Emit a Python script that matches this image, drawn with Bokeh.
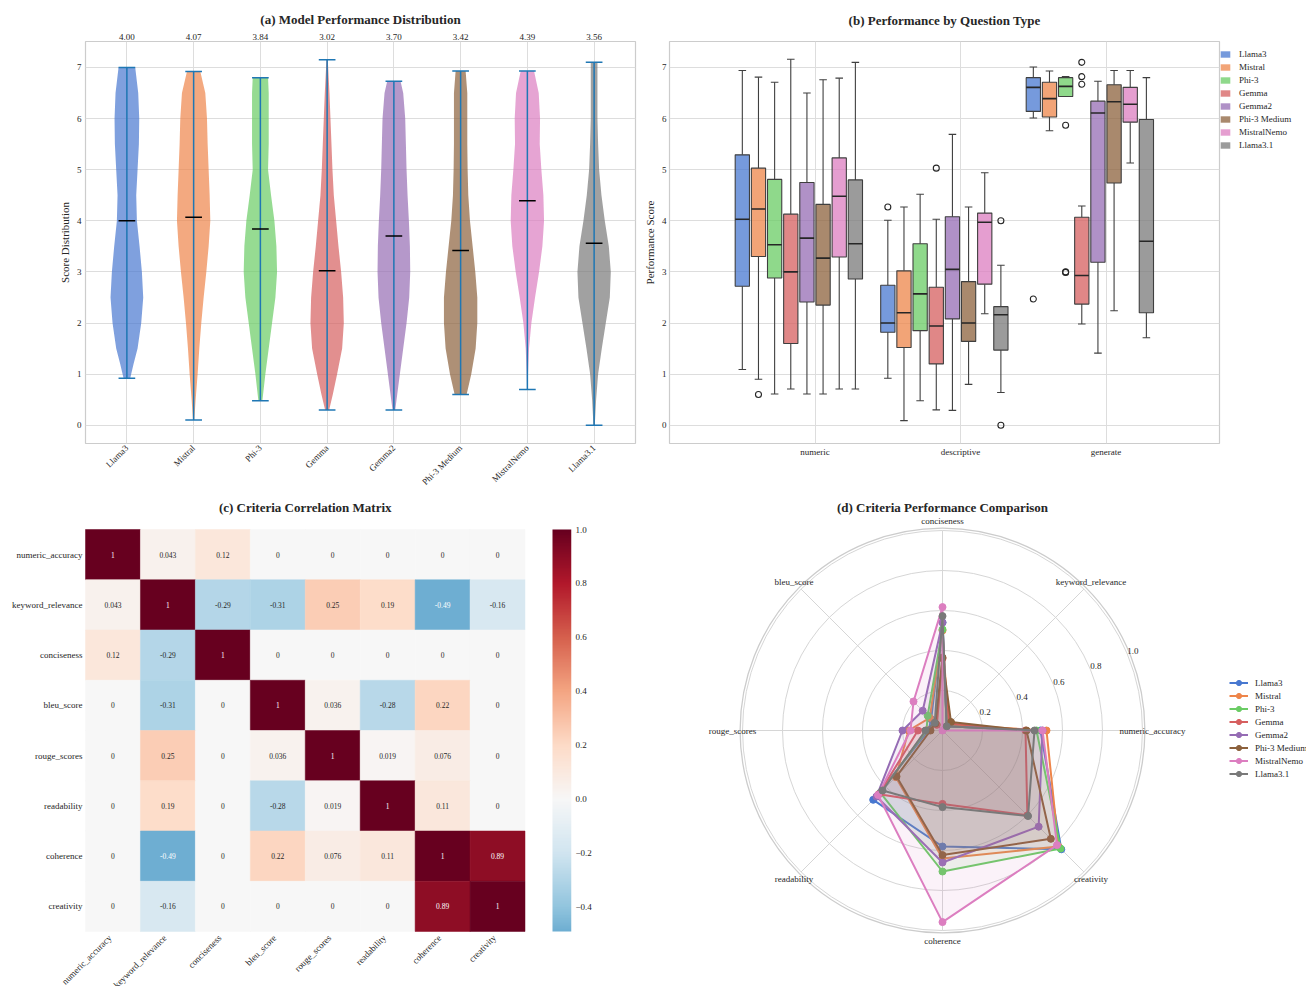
import math
import numpy as np
from bokeh.plotting import figure
from bokeh.models import (Range1d, LinearAxis, FixedTicker, Legend, LegendItem,
                          ColumnDataSource, LinearColorMapper)
from bokeh.layouts import row, column
from bokeh.embed import file_html
from bokeh.resources import INLINE
from bokeh.core.properties import value

FONT = "Liberation Serif"
TXT = "#262626"
GRID = "#dddddd"
SPINE = "#cccccc"
BOXLINE = "#3f3f3f"

MODELS = ["Llama3", "Mistral", "Phi-3", "Gemma", "Gemma2", "Phi-3 Medium", "MistralNemo", "Llama3.1"]
COLORS = ["#4878d0", "#ee854a", "#6acc64", "#d65f5f", "#956cb4", "#8c613c", "#dc7ec0", "#797979"]

# ---------------- (a) violin data ----------------
VIOLIN_MEANS = [4.00, 4.07, 3.84, 3.02, 3.70, 3.42, 4.39, 3.56]
VIOLIN_MIN = [0.92, 0.10, 0.48, 0.30, 0.30, 0.60, 0.70, 0.00]
VIOLIN_MAX = [7.00, 6.92, 6.80, 7.15, 6.73, 6.93, 6.93, 7.10]
# density outline: score levels and half-widths
VIOLIN_Y = {
    "Llama3": [0.92, 1.2, 1.5, 2.0, 2.5, 3.0, 3.5, 4.0, 4.5, 5.0, 5.5, 6.0, 6.5, 7.0],
    "Mistral": [0.10, 0.5, 1.0, 1.5, 2.0, 2.5, 3.0, 3.5, 4.0, 4.5, 5.0, 5.5, 6.0, 6.5, 6.92],
    "Phi-3": [0.48, 1.0, 1.5, 2.0, 2.5, 3.0, 3.5, 4.0, 4.5, 5.0, 5.5, 6.0, 6.5, 6.8],
    "Gemma": [0.30, 0.6, 1.0, 1.5, 2.0, 2.5, 3.0, 3.5, 4.0, 4.5, 5.0, 5.5, 6.0, 6.5, 7.15],
    "Gemma2": [0.30, 0.5, 1.0, 1.5, 2.0, 2.5, 3.0, 3.5, 4.0, 4.5, 5.0, 5.5, 6.0, 6.5, 6.73],
    "Phi-3 Medium": [0.60, 1.0, 1.5, 2.0, 2.5, 3.0, 3.5, 4.0, 4.5, 5.0, 5.5, 6.0, 6.5, 6.93],
    "MistralNemo": [0.70, 1.0, 1.5, 2.0, 2.5, 3.0, 3.5, 4.0, 4.5, 5.0, 5.5, 6.0, 6.5, 6.93],
    "Llama3.1": [0.0, 0.5, 1.0, 1.5, 2.0, 2.5, 3.0, 3.5, 4.0, 4.5, 5.0, 5.5, 6.0, 6.5, 7.1],
}
VIOLIN_W = {
    "Llama3": [0.05, 0.10, 0.16, 0.215, 0.245, 0.225, 0.19, 0.15, 0.14, 0.16, 0.18, 0.185, 0.17, 0.125],
    "Mistral": [0.01, 0.03, 0.06, 0.085, 0.115, 0.15, 0.19, 0.225, 0.25, 0.24, 0.225, 0.21, 0.20, 0.175, 0.10],
    "Phi-3": [0.03, 0.075, 0.125, 0.175, 0.225, 0.25, 0.24, 0.21, 0.16, 0.115, 0.125, 0.125, 0.125, 0.115],
    "Gemma": [0.03, 0.085, 0.15, 0.225, 0.25, 0.24, 0.21, 0.17, 0.135, 0.10, 0.08, 0.065, 0.05, 0.035, 0.01],
    "Gemma2": [0.02, 0.04, 0.09, 0.14, 0.19, 0.23, 0.245, 0.24, 0.225, 0.205, 0.19, 0.18, 0.17, 0.14, 0.10],
    "Phi-3 Medium": [0.09, 0.16, 0.225, 0.25, 0.25, 0.22, 0.18, 0.14, 0.115, 0.105, 0.10, 0.10, 0.10, 0.075],
    "MistralNemo": [0.005, 0.01, 0.025, 0.06, 0.115, 0.175, 0.225, 0.25, 0.24, 0.21, 0.185, 0.19, 0.17, 0.10],
    "Llama3.1": [0.01, 0.03, 0.06, 0.115, 0.175, 0.235, 0.25, 0.22, 0.16, 0.11, 0.075, 0.06, 0.05, 0.05, 0.05],
}

# ---------------- (b) box data ----------------
QTYPES = ["numeric", "descriptive", "generate"]
# [lower whisker, Q1, median, Q3, upper whisker] per model
BOX_STATS = {
    "numeric": [[1.09, 2.72, 4.03, 5.29, 6.94], [0.90, 3.30, 4.23, 5.03, 6.81],
                [0.61, 2.88, 3.53, 4.81, 6.71], [0.71, 1.60, 3.00, 4.13, 7.16],
                [0.61, 2.41, 3.66, 4.75, 6.50], [0.61, 2.35, 3.27, 4.32, 6.76],
                [0.71, 3.29, 4.48, 5.23, 6.79], [0.71, 2.86, 3.55, 4.80, 7.10]],
    "descriptive": [[0.92, 1.82, 2.00, 2.74, 4.01], [0.09, 1.52, 2.20, 3.02, 4.27],
                    [0.48, 1.85, 2.57, 3.55, 4.52], [0.30, 1.20, 1.94, 2.70, 4.03],
                    [0.29, 2.08, 3.05, 4.08, 5.69], [0.80, 1.64, 2.00, 2.81, 4.27],
                    [2.18, 2.76, 3.97, 4.15, 4.94], [0.64, 1.47, 2.16, 2.32, 3.13]],
    "generate": [[6.01, 6.14, 6.61, 6.80, 7.01], [5.76, 6.03, 6.39, 6.71, 6.93],
                 [6.43, 6.43, 6.63, 6.80, 6.82], [1.98, 2.37, 2.93, 4.07, 4.29],
                 [1.41, 3.19, 6.11, 6.34, 6.73], [2.24, 4.74, 6.33, 6.66, 6.94],
                 [5.13, 5.93, 6.28, 6.61, 6.94], [1.71, 2.20, 3.60, 5.98, 6.80]],
}
BOX_OUTLIERS = {
    "numeric": [[], [0.60], [], [], [], [], [], []],
    "descriptive": [[4.27], [], [], [5.03], [], [], [], [4.00, 0.00]],
    "generate": [[2.47], [], [5.87, 3.00, 2.99], [7.10, 6.82, 6.67], [], [], [], []],
}

# ---------------- (c) correlation data ----------------
CRITERIA = ["numeric_accuracy", "keyword_relevance", "conciseness", "bleu_score",
            "rouge_scores", "readability", "coherence", "creativity"]
CORR = [
    [1, 0.043, 0.12, 0, 0, 0, 0, 0],
    [0.043, 1, -0.29, -0.31, 0.25, 0.19, -0.49, -0.16],
    [0.12, -0.29, 1, 0, 0, 0, 0, 0],
    [0, -0.31, 0, 1, 0.036, -0.28, 0.22, 0],
    [0, 0.25, 0, 0.036, 1, 0.019, 0.076, 0],
    [0, 0.19, 0, -0.28, 0.019, 1, 0.11, 0],
    [0, -0.49, 0, 0.22, 0.076, 0.11, 1, 0.89],
    [0, -0.16, 0, 0, 0, 0, 0.89, 1],
]
CB_TICKS = [-0.4, -0.2, 0.0, 0.2, 0.4, 0.6, 0.8, 1.0]
CB_LABELS = ["\u22120.4", "\u22120.2", "0.0", "0.2", "0.4", "0.6", "0.8", "1.0"]

# ---------------- (d) radar data ----------------
RADAR = {
    "Llama3": [0.49, 0.03, 0.54, 0.08, 0.07, 0.49, 0.58, 0.84],
    "Mistral": [0.52, 0.04, 0.50, 0.09, 0.17, 0.33, 0.64, 0.82],
    "Phi-3": [0.47, 0.03, 0.505, 0.105, 0.08, 0.44, 0.705, 0.835],
    "Gemma": [0.415, 0.05, 0.36, 0.04, 0.123, 0.45, 0.367, 0.60],
    "Gemma2": [0.50, 0.03, 0.54, 0.14, 0.20, 0.467, 0.66, 0.68],
    "Phi-3 Medium": [0.42, 0.06, 0.365, 0.05, 0.06, 0.325, 0.623, 0.766],
    "MistralNemo": [0.50, 0.0, 0.617, 0.205, 0.16, 0.456, 0.958, 0.81],
    "Llama3.1": [0.46, 0.03, 0.572, 0.055, 0.085, 0.424, 0.383, 0.605],
}
R_TICKS = [0.2, 0.4, 0.6, 0.8, 1.0]
R_LABELS = ["0.2", "0.4", "0.6", "0.8", "1.0"]


def style_axes(p):
    for ax in p.axis:
        ax.axis_line_color = None
        ax.major_tick_line_color = None
        ax.minor_tick_line_color = None
        ax.major_tick_out = 0
        ax.major_tick_in = 0
        ax.minor_tick_out = 0
        ax.minor_tick_in = 0
        ax.major_label_text_font = FONT
        ax.major_label_text_font_size = "9px"
        ax.major_label_text_color = TXT
        ax.axis_label_text_font = FONT
        ax.axis_label_text_font_size = "11px"
        ax.axis_label_text_font_style = "normal"
        ax.axis_label_text_color = TXT


def style_title(p, standoff, valign):
    p.title.align = "center"
    p.title.vertical_align = valign
    p.title.text_font = FONT
    p.title.text_font_size = "13px"
    p.title.text_font_style = "bold"
    p.title.text_color = TXT
    p.title.standoff = standoff


YR = (-0.3575, 7.5075)

# ====================== (a) ======================
FW, FH = 550, 402
pa = figure(title="(a) Model Performance Distribution",
            frame_width=FW, frame_height=FH, min_border_left=85, min_border_right=5,
            min_border_top=40, min_border_bottom=48, x_range=Range1d(0.38, 8.62),
            y_range=Range1d(*YR), output_backend="svg", toolbar_location=None)
POS = [i + 1 for i in range(len(MODELS))]
pa.xaxis.ticker = FixedTicker(ticks=POS)
pa.xaxis.major_label_overrides = {p: m for p, m in zip(POS, MODELS)}
pa.xaxis.major_label_orientation = math.pi / 4
pa.xaxis.major_label_standoff = 3
pa.yaxis.ticker = FixedTicker(ticks=list(range(8)))
pa.yaxis.axis_label = "Score Distribution"
pa.yaxis.major_label_standoff = 4
pa.yaxis.axis_label_standoff = 3
pa.grid.grid_line_color = GRID
pa.outline_line_color = SPINE
pa.outline_line_width = 1.2

vx, vy = [], []
for i, m in enumerate(MODELS):
    pos = POS[i]
    ys = VIOLIN_Y[m]
    ws = VIOLIN_W[m]
    vx.append([pos - w for w in ws] + [pos + w for w in reversed(ws)])
    vy.append(list(ys) + list(reversed(ys)))
pa.patches(xs="xs", ys="ys", source=ColumnDataSource(dict(xs=vx, ys=vy, c=COLORS)),
           fill_color="c", fill_alpha=0.7, line_color=None)
CAP = 0.125
pa.segment(x0=POS, y0=VIOLIN_MIN, x1=POS, y1=VIOLIN_MAX, line_color="#1f77b4", line_width=1.5)
for arr in (VIOLIN_MIN, VIOLIN_MAX):
    pa.segment(x0=[p - CAP for p in POS], y0=arr, x1=[p + CAP for p in POS], y1=arr,
               line_color="#1f77b4", line_width=1.5)
pa.segment(x0=[p - CAP for p in POS], y0=VIOLIN_MEANS, x1=[p + CAP for p in POS], y1=VIOLIN_MEANS,
           line_color="black", line_width=1.5)
top_ax = LinearAxis(ticker=FixedTicker(ticks=POS),
                    major_label_overrides={p: f"{mv:.2f}" for p, mv in zip(POS, VIOLIN_MEANS)},
                    major_label_standoff=2)
pa.add_layout(top_ax, "above")
style_axes(pa)
style_title(pa, 8, "bottom")

# ====================== (b) ======================
pb = figure(title="(b) Performance by Question Type",
            frame_width=FW, frame_height=FH, min_border_left=26, min_border_right=90,
            min_border_top=40, min_border_bottom=48, x_range=Range1d(-1.0, 2.78),
            y_range=Range1d(*YR), output_backend="svg", toolbar_location=None)
CAT_X = list(range(len(QTYPES)))
pb.xaxis.ticker = FixedTicker(ticks=CAT_X)
pb.xaxis.major_label_overrides = {c: q for c, q in zip(CAT_X, QTYPES)}
pb.xaxis.major_label_standoff = 3
pb.yaxis.ticker = FixedTicker(ticks=list(range(8)))
pb.yaxis.axis_label = "Performance Score"
pb.yaxis.major_label_standoff = 3
pb.yaxis.axis_label_standoff = 3
pb.grid.grid_line_color = GRID
pb.outline_line_color = SPINE
pb.outline_line_width = 1.2

DODGE = 0.111
BW = 0.098
CAPW = 0.026
legend_r = []
for i, m in enumerate(MODELS):
    off = (i - 4.5) * DODGE
    xs = [c + off for c in CAT_X]
    st = [BOX_STATS[q][i] for q in QTYPES]
    lo = [s[0] for s in st]
    q1 = [s[1] for s in st]
    med = [s[2] for s in st]
    q3 = [s[3] for s in st]
    hi = [s[4] for s in st]
    pb.segment(x0=xs + xs, y0=q3 + q1, x1=xs + xs, y1=hi + lo, line_color=BOXLINE, line_width=1.1)
    pb.segment(x0=[x - CAPW for x in xs] * 2, y0=hi + lo, x1=[x + CAPW for x in xs] * 2, y1=hi + lo,
               line_color=BOXLINE, line_width=1.1)
    rf = pb.vbar(x=xs, width=BW, bottom=q1, top=q3, fill_color=COLORS[i], fill_alpha=0.75,
                 line_color=None)
    legend_r.append(rf)
    pb.vbar(x=xs, width=BW, bottom=q1, top=q3, fill_color=None, line_color=BOXLINE, line_width=1.1)
    pb.segment(x0=[x - BW / 2 for x in xs], y0=med, x1=[x + BW / 2 for x in xs], y1=med,
               line_color="#262626", line_width=1.6)
    ox, oy = [], []
    for c, q in zip(CAT_X, QTYPES):
        for v in BOX_OUTLIERS[q][i]:
            ox.append(c + off)
            oy.append(v)
    if ox:
        pb.scatter(ox, oy, marker="circle", size=6, fill_color=None, line_color="#262626", line_width=1.1)
style_axes(pb)
leg_b = Legend(items=[LegendItem(label=m, renderers=[r]) for m, r in zip(MODELS, legend_r)],
               location=(0, 292), glyph_width=12, glyph_height=8, label_height=13,
               label_standoff=8, spacing=0, padding=0, margin=0,
               background_fill_alpha=0.0, border_line_color=None,
               label_text_font=FONT, label_text_font_size="9px", label_text_color=TXT)
pb.add_layout(leg_b, "right")
style_title(pb, 24, "top")

# ====================== (c) ======================
CW = 439.5 / 8      # px per cell (x)
CH = 402.0 / 8      # px per cell (y)
LEFTPAD = 85         # px between canvas left and first column
CFW, CFH = LEFTPAD + 486, 494
TOPPAD = 37          # px between canvas top and first row
BOTPAD = CFH - TOPPAD - 402
VMIN, VMAX, CENTER = -0.49, 1.0, 0.0
CBPX = 402.0 / (VMAX - VMIN)

RDBU_R = ["#053061", "#2166ac", "#4393c3", "#92c5de", "#d1e5f0", "#f7f7f7",
          "#fddbc7", "#f4a582", "#d6604d", "#b2182b", "#67001f"]


def _rgb(h):
    return tuple(int(h[k:k + 2], 16) for k in (1, 3, 5))


def cmap(t):
    t = min(max(t, 0.0), 1.0) * 10
    k = min(int(t), 9)
    f = t - k
    a, b = _rgb(RDBU_R[k]), _rgb(RDBU_R[k + 1])
    return tuple(a[j] + (b[j] - a[j]) * f for j in range(3))


VR = max(VMAX - CENTER, CENTER - VMIN)
CLO = (VMIN - CENTER + VR) / (2 * VR)
CHI = (VMAX - CENTER + VR) / (2 * VR)
PAL = ["#%02x%02x%02x" % tuple(int(round(c)) for c in cmap(CLO + (CHI - CLO) * k / 255)) for k in range(256)]
mapper = LinearColorMapper(palette=PAL, low=VMIN, high=VMAX)


def lum(rgb):
    out = []
    for c in rgb:
        c = c / 255.0
        out.append(c / 12.92 if c <= 0.03928 else ((c + 0.055) / 1.055) ** 2.4)
    return 0.2126 * out[0] + 0.7152 * out[1] + 0.0722 * out[2]


pc = figure(frame_width=CFW, frame_height=CFH, min_border_left=0, min_border_right=69,
            min_border_top=0, min_border_bottom=0,
            x_range=Range1d(-LEFTPAD / CW, 486 / CW), y_range=Range1d(8 + BOTPAD / CH, -TOPPAD / CH),
            x_axis_type=None, y_axis_type=None, output_backend="svg", toolbar_location=None)
pc.extra_y_ranges = {"cb": Range1d(VMIN - BOTPAD / CBPX, VMAX + TOPPAD / CBPX)}
pc.outline_line_color = None

hx, hy, hv, hl, htc = [], [], [], [], []
for i, rowv in enumerate(CORR):
    for j, v in enumerate(rowv):
        hx.append(j + 0.5)
        hy.append(i + 0.5)
        hv.append(v)
        hl.append(format(v, ".2g"))
        rgb = cmap(CLO + (CHI - CLO) * (v - VMIN) / (VMAX - VMIN))
        htc.append(TXT if lum(rgb) > 0.408 else "white")
hsrc = ColumnDataSource(dict(x=hx, y=hy, v=hv, lab=hl, tc=htc))
pc.rect(x="x", y="y", width=1, height=1, source=hsrc,
        fill_color={"field": "v", "transform": mapper},
        line_color={"field": "v", "transform": mapper}, line_width=0.5)
pc.text(x="x", y="y", text="lab", source=hsrc, text_color="tc", text_align="center",
        text_baseline="middle", text_font=value(FONT), text_font_size="7.5px")

NCRIT = len(CRITERIA)
CTICKS = [k + 0.5 for k in range(NCRIT)]
right_ax = LinearAxis(y_range_name="cb", ticker=FixedTicker(ticks=CB_TICKS),
                      major_label_overrides={t: s for t, s in zip(CB_TICKS, CB_LABELS)},
                      major_label_standoff=4)
pc.add_layout(right_ax, "right")
style_axes(pc)

# row labels (left) and rotated column labels (bottom)
pc.text(x=[0] * NCRIT, y=CTICKS, text=CRITERIA, text_align="right", text_baseline="middle",
        x_offset=-3, text_font=value(FONT), text_font_size="9px", text_color=TXT)
pc.text(x=CTICKS, y=[NCRIT] * NCRIT, text=CRITERIA, angle=math.pi / 4, text_align="right",
        text_baseline="middle", x_offset=-3, y_offset=5, text_font=value(FONT),
        text_font_size="9px", text_color=TXT)

CBX0 = (552 - 85) / CW
CBDW = 19 / CW
grad = np.linspace(VMIN, VMAX, 256).reshape(256, 1)
pc.image(image=[grad], x=CBX0, y=VMIN, dw=CBDW, dh=VMAX - VMIN, y_range_name="cb",
         color_mapper=mapper)

pc.text(x=[NCRIT / 2], y=[-(527 - 505) / CH], text=["(c) Criteria Correlation Matrix"],
        text_align="center", text_baseline="middle", text_font=value(FONT),
        text_font_size="13px", text_font_style="bold", text_color=TXT)

# ====================== (d) ======================
DFW, DFH = 666, CFH
RPX = 200.0
CX, CY = 942 - 640, 728 - 490   # polar centre inside the canvas (px)
pd_ = figure(frame_width=DFW, frame_height=DFH, min_border=0,
             x_range=Range1d(-CX / RPX, (DFW - CX) / RPX),
             y_range=Range1d(-(DFH - CY) / RPX, CY / RPX),
             x_axis_type=None, y_axis_type=None, output_backend="svg", toolbar_location=None)
pd_.outline_line_color = None
THETA = [2 * math.pi * k / NCRIT for k in range(NCRIT)]

pd_.circle(x=[0] * len(R_TICKS), y=[0] * len(R_TICKS), radius=R_TICKS, fill_color=None,
           line_color="#d6d6d6", line_width=1)
pd_.segment(x0=[0] * NCRIT, y0=[0] * NCRIT, x1=[math.cos(t) for t in THETA],
            y1=[math.sin(t) for t in THETA], line_color="#d6d6d6", line_width=1)
pd_.circle(x=[0], y=[0], radius=[1.012], fill_color=None, line_color=SPINE, line_width=1.3)

RLA = math.radians(22.5)
pd_.text(x=[r * math.cos(RLA) for r in R_TICKS], y=[r * math.sin(RLA) for r in R_TICKS],
         text=R_LABELS, text_align="left", text_baseline="bottom", text_font=value(FONT),
         text_font_size="9px", text_color=TXT)
pd_.text(x=[1.05 * math.cos(t) for t in THETA], y=[1.05 * math.sin(t) for t in THETA],
         text=CRITERIA, text_align="center", text_baseline="middle", text_font=value(FONT),
         text_font_size="9px", text_color=TXT)

d_items = []
for i, m in enumerate(MODELS):
    vals = RADAR[m]
    xs = [v * math.cos(t) for v, t in zip(vals, THETA)]
    ys = [v * math.sin(t) for v, t in zip(vals, THETA)]
    pd_.patch(xs, ys, fill_color=COLORS[i], fill_alpha=0.1, line_color=None)
    lr = pd_.line(xs + xs[:1], ys + ys[:1], line_color=COLORS[i], line_width=2)
    sr = pd_.scatter(xs, ys, marker="circle", size=7, fill_color=COLORS[i], line_color=COLORS[i])
    d_items.append(LegendItem(label=m, renderers=[lr, sr]))

leg_d = Legend(items=d_items, location=(589, DFH - 781 + 490 + 3), glyph_width=19, glyph_height=13,
               label_height=13, label_standoff=7, spacing=0, padding=2, margin=0,
               background_fill_alpha=0.0, border_line_color=None,
               label_text_font=FONT, label_text_font_size="9px", label_text_color=TXT)
pd_.add_layout(leg_d)

pd_.text(x=[0], y=[(728 - 505) / RPX], text=["(d) Criteria Performance Comparison"],
         text_align="center", text_baseline="middle", text_font=value(FONT),
         text_font_size="13px", text_font_style="bold", text_color=TXT)

layout = column(row(pa, pb), row(pc, pd_))
open("out.html", "w").write(file_html(layout, INLINE))
